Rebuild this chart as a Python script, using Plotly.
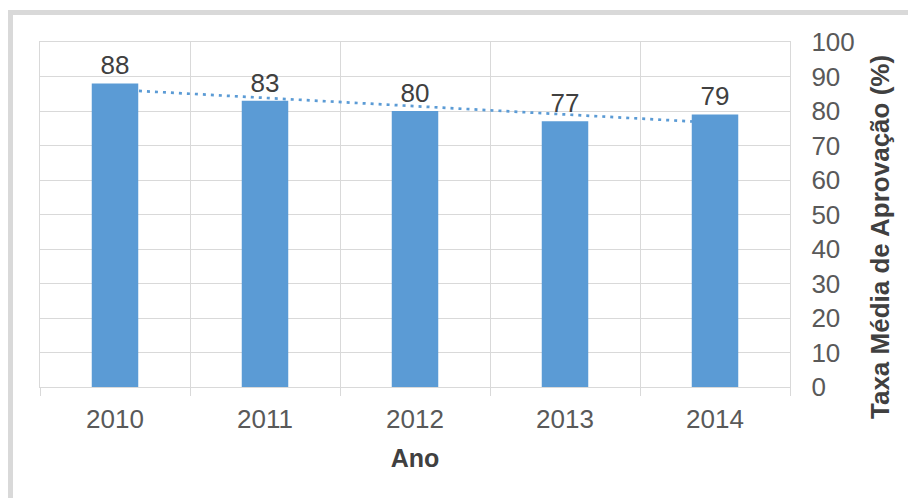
import numpy as np
import plotly.graph_objects as go

anos = ["2010", "2011", "2012", "2013", "2014"]
taxa = [88, 83, 80, 77, 79]
y_ticks = list(range(0, 101, 10))

# linear trendline (Excel-style) fitted on the data
xi = np.arange(len(taxa))
slope, intercept = np.polyfit(xi, taxa, 1)
trend = list(intercept + slope * xi)

BLUE = "#5b9bd5"
GRID = "#d9d9d9"
FONT = "Liberation Sans, Arial, sans-serif"

fig = go.Figure()

# trendline on base axes (drawn beneath bars)
fig.add_trace(go.Scatter(
    x=anos, y=trend, xaxis="x", yaxis="y", mode="lines",
    line=dict(color=BLUE, width=2.7, dash="3px,5px"), hoverinfo="skip", showlegend=False))

# bars on overlay axes (drawn above trendline)
fig.add_trace(go.Bar(
    x=anos, y=taxa, xaxis="x2", yaxis="y2", marker=dict(color=BLUE, line=dict(width=0)),
    width=0.31, text=[str(v) for v in taxa], textposition="outside",
    textfont=dict(size=26, color="#404040", family=FONT), constraintext="none",
    cliponaxis=False, showlegend=False))

OFF = 8  # page body margin
W, H = 916 - OFF, 498 - OFF
PL, PR, PT, PB = 40, 790, 42, 387  # plot area in screen pixels
ml, mr, mt, mb = PL - OFF, W - (PR - OFF), PT - OFF, H - (PB - OFF)
pw, ph = PR - PL, PB - PT

def px_x(p):
    return (p - PL) / pw

def px_y(p):
    return (PB - p) / ph

fig.update_layout(
    width=W, height=H,
    margin=dict(l=ml, r=mr, t=mt, b=mb, autoexpand=False),
    paper_bgcolor="white", plot_bgcolor="white",
    font=dict(family=FONT, color="#595959"),
    xaxis=dict(
        type="category", range=[-0.5, 4.5], tickson="boundaries",
        showgrid=True, gridcolor=GRID, gridwidth=1.4,
        ticks="outside", ticklen=8, tickcolor=GRID, tickwidth=1.4,
        showline=True, linecolor=GRID, linewidth=1.4, mirror=True,
        ticklabelstandoff=9,
        tickfont=dict(size=26, color="#595959"),
        title=dict(text="<b>Ano</b>", font=dict(size=25, color="#404040"), standoff=16),
        zeroline=False,
    ),
    yaxis=dict(
        side="right", range=[0, 100], tickvals=y_ticks,
        showgrid=True, gridcolor=GRID, gridwidth=1.4, zeroline=False,
        showline=True, linecolor=GRID, linewidth=1.4, mirror=True,
        ticks="", ticklabelstandoff=15,
        tickfont=dict(size=26, color="#595959"),
    ),
    xaxis2=dict(type="category", range=[-0.5, 4.5], overlaying="x", matches="x",
                showgrid=False, showticklabels=False, showline=False, zeroline=False),
    yaxis2=dict(range=[0, 100], overlaying="y", showgrid=False, showticklabels=False,
                showline=False, zeroline=False),
    bargap=0.69,
    annotations=[dict(
        text="<b>Taxa Média de Aprovação (%)</b>", textangle=-90,
        xref="paper", yref="paper", x=px_x(880), y=px_y(237),
        showarrow=False, font=dict(size=26, color="#404040"),
        xanchor="center", yanchor="middle")],
    shapes=[dict(
        type="rect", xref="paper", yref="paper",
        x0=px_x(10.5), x1=px_x(940), y0=px_y(520), y1=px_y(12.5),
        line=dict(color=GRID, width=5), fillcolor="rgba(0,0,0,0)", layer="above")],
)

fig.write_html("out.html")
